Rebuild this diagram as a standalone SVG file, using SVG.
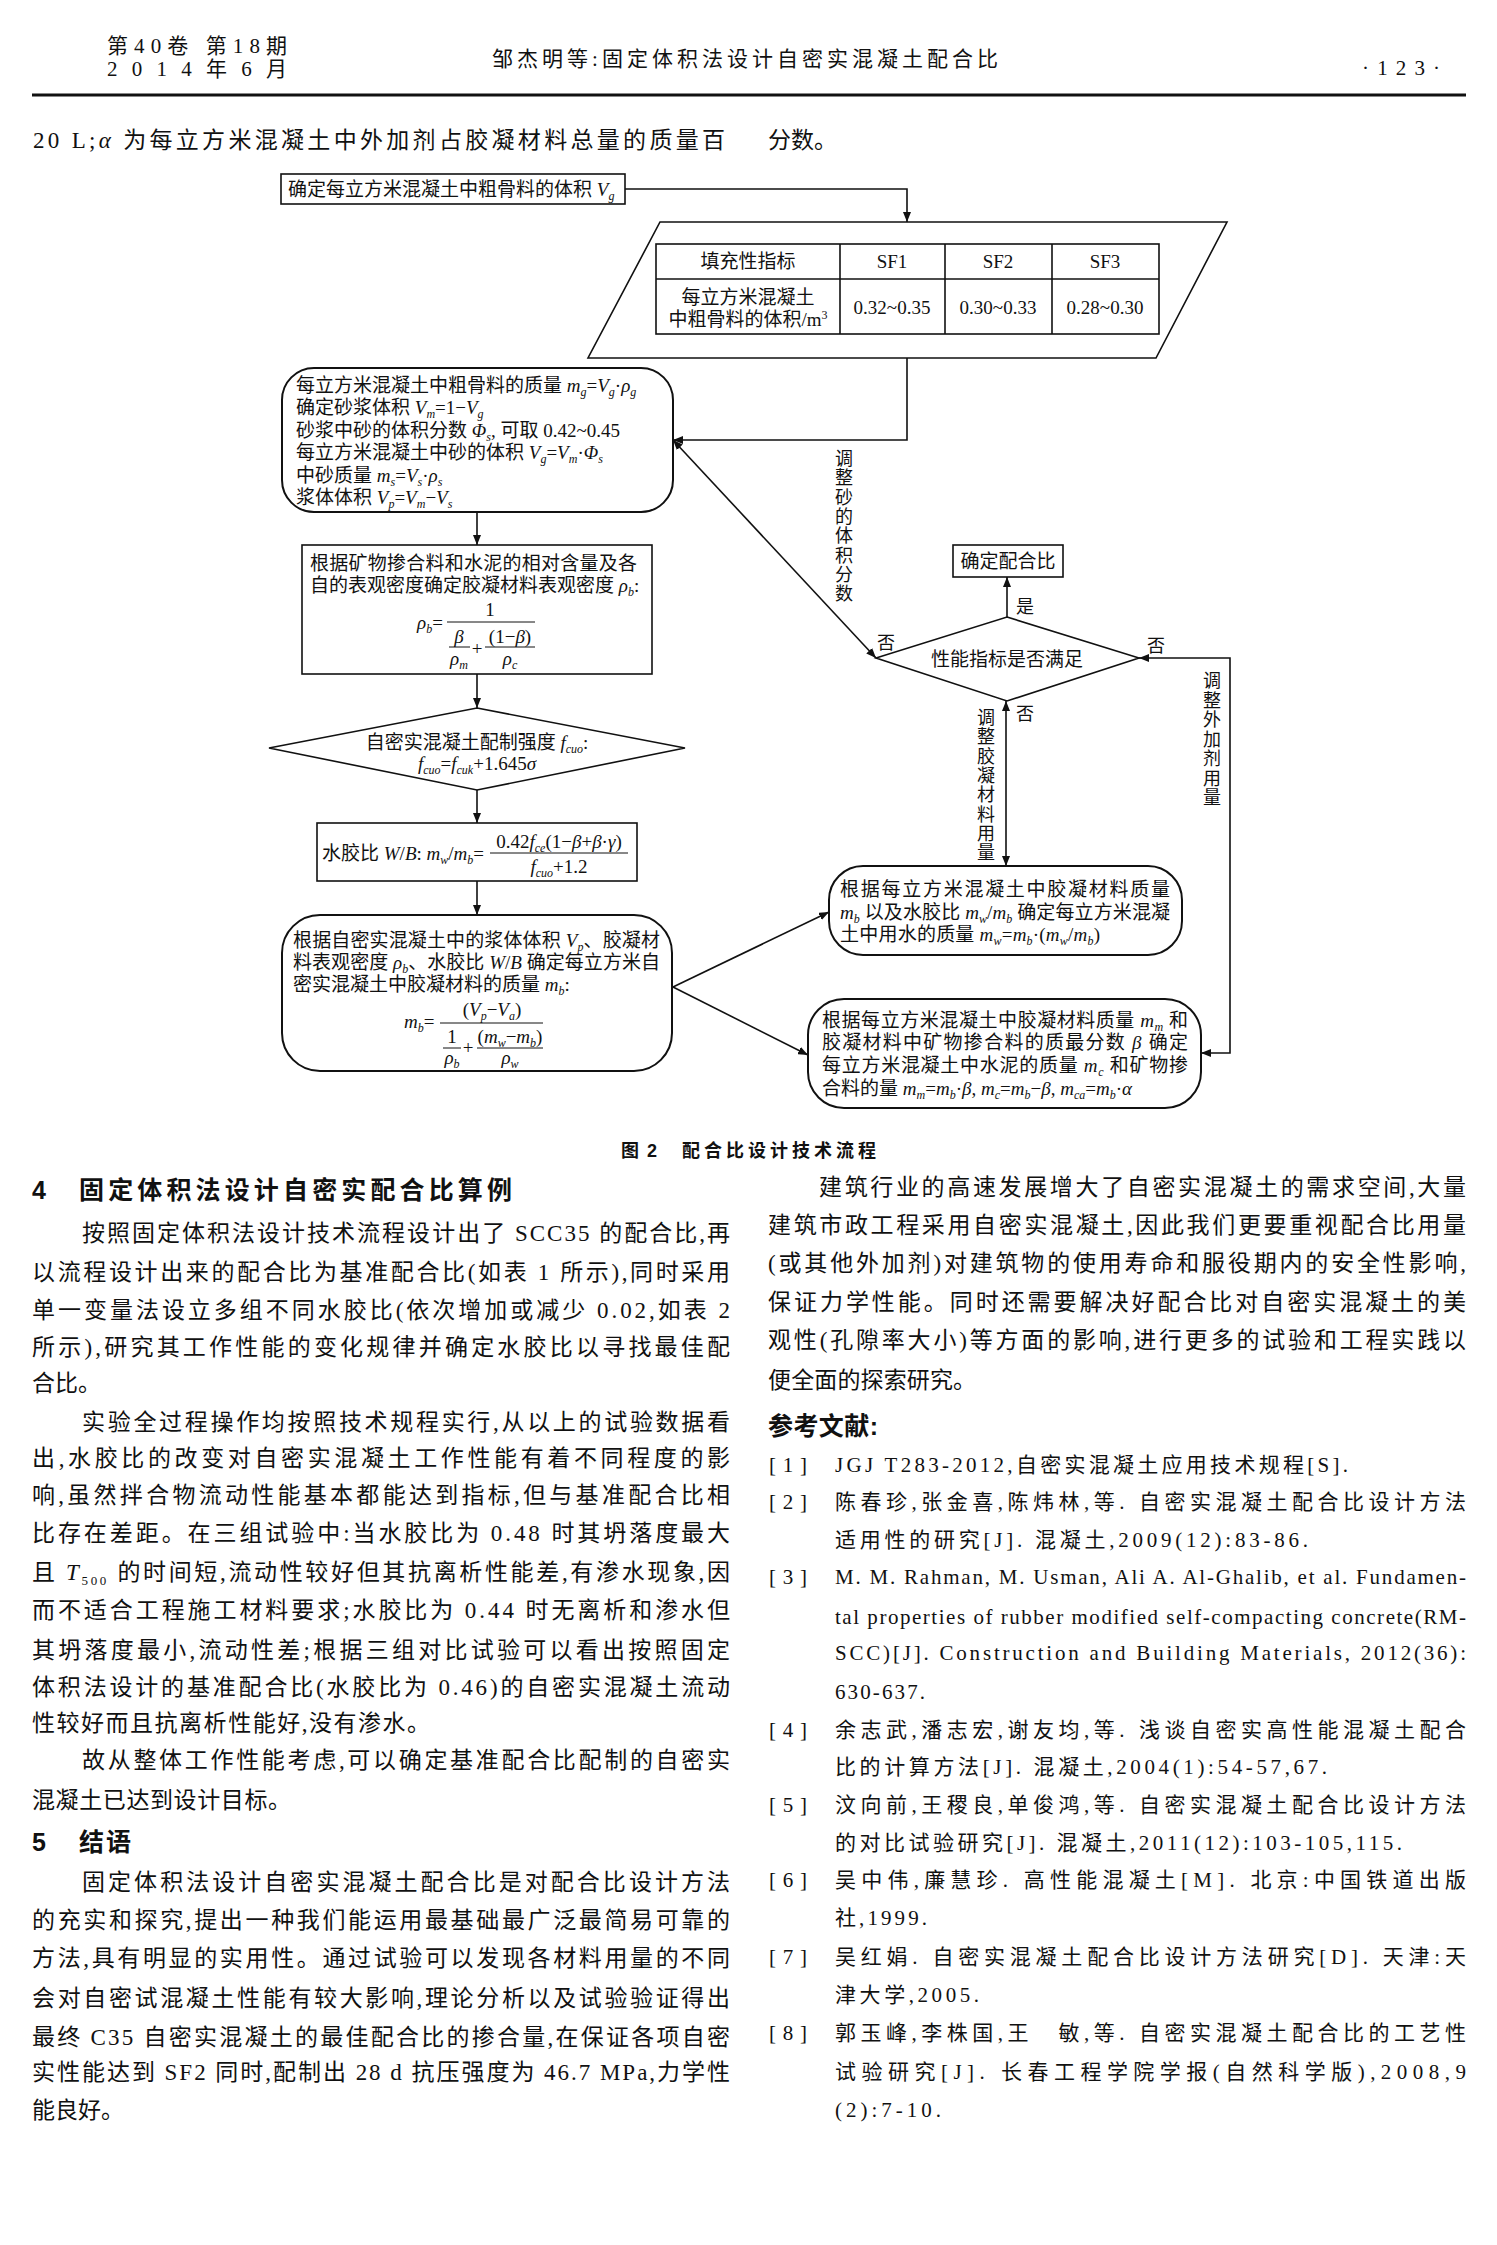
<svg xmlns="http://www.w3.org/2000/svg" width="1497" height="2245" viewBox="0 0 1497 2245">
<style>
.n{fill:none;stroke:#111;stroke-width:1.6}
.rn{fill:none;stroke:#111;stroke-width:2}
.c{fill:none;stroke:#111;stroke-width:1.6}
.t{font-family:"Liberation Serif","Noto Sans CJK SC",serif;font-size:19px;fill:#111}
.lb{font-family:"Liberation Serif","Noto Sans CJK SC",serif;font-size:18px;fill:#111}
.i{font-style:italic}
.s{font-size:12px;baseline-shift:-4px;font-style:italic}
.b{font-family:"Liberation Serif","Noto Sans CJK SC",serif;font-size:23px;fill:#111}
.r{font-family:"Liberation Serif","Noto Sans CJK SC",serif;font-size:21px;fill:#111}
.h{font-family:"Liberation Sans","Noto Sans CJK SC",sans-serif;font-weight:700;font-size:25px;fill:#111}
.hd{font-family:"Liberation Serif","Noto Sans CJK SC",serif;font-size:21px;fill:#111}
.cap{font-family:"Liberation Sans","Noto Sans CJK SC",sans-serif;font-weight:700;font-size:18px;fill:#111}
.mid{text-anchor:middle}
</style>
<defs>
<marker id="ah" viewBox="0 0 10 8" refX="10" refY="4" markerWidth="10" markerHeight="8" markerUnits="userSpaceOnUse" orient="auto-start-reverse"><path d="M0,0 L10,4 L0,8 z" fill="#111"/></marker>
</defs>
<rect width="1497" height="2245" fill="#fff"/>

<g id="header">
<text class="hd" x="107" y="53" textLength="180">第40卷 第18期</text>
<text class="hd" x="107" y="76" textLength="180">2014年6月</text>
<text class="hd" x="492" y="66" textLength="506">邹杰明等:固定体积法设计自密实混凝土配合比</text>
<text class="hd" x="1362" y="75" font-size="26" textLength="78">·123·</text>
<line x1="32" y1="95" x2="1466" y2="95" stroke="#111" stroke-width="3"/>
<text class="b" x="33" y="148" textLength="692">20 L;<tspan class="i">α</tspan> 为每立方米混凝土中外加剂占胶凝材料总量的质量百</text>
<text class="b" x="768" y="148">分数。</text>
</g>

<g id="connectors">
<polyline class="c" points="625,189 907,189 907,222" marker-end="url(#ah)"/>
<polyline class="c" points="907,358 907,440 673,440" marker-end="url(#ah)"/>
<line class="c" x1="477" y1="512" x2="477" y2="545" marker-end="url(#ah)"/>
<line class="c" x1="477" y1="674" x2="477" y2="708" marker-end="url(#ah)"/>
<line class="c" x1="477" y1="790" x2="477" y2="823" marker-end="url(#ah)"/>
<line class="c" x1="477" y1="881" x2="477" y2="915" marker-end="url(#ah)"/>
<line class="c" x1="673" y1="987" x2="829" y2="912" marker-end="url(#ah)"/>
<line class="c" x1="673" y1="987" x2="808" y2="1055" marker-end="url(#ah)"/>
<line class="c" x1="1006" y1="866" x2="1006" y2="701" marker-start="url(#ah)" marker-end="url(#ah)"/>
<line class="c" x1="876" y1="658" x2="673" y2="440" marker-start="url(#ah)" marker-end="url(#ah)"/>
<polyline class="c" points="1139,658 1230,658 1230,1053 1201,1053" marker-start="url(#ah)" marker-end="url(#ah)"/>
<line class="c" x1="1007" y1="617" x2="1007" y2="577" marker-end="url(#ah)"/>
<text class="lb mid"><tspan x="844" y="465">调</tspan><tspan x="844" dy="19.3">整</tspan><tspan x="844" dy="19.3">砂</tspan><tspan x="844" dy="19.3">的</tspan><tspan x="844" dy="19.3">体</tspan><tspan x="844" dy="19.3">积</tspan><tspan x="844" dy="19.3">分</tspan><tspan x="844" dy="19.3">数</tspan></text>
<text class="lb mid"><tspan x="986" y="724">调</tspan><tspan x="986" dy="19.3">整</tspan><tspan x="986" dy="19.3">胶</tspan><tspan x="986" dy="19.3">凝</tspan><tspan x="986" dy="19.3">材</tspan><tspan x="986" dy="19.3">料</tspan><tspan x="986" dy="19.3">用</tspan><tspan x="986" dy="19.3">量</tspan></text>
<text class="lb mid"><tspan x="1212" y="687">调</tspan><tspan x="1212" dy="19.5">整</tspan><tspan x="1212" dy="19.5">外</tspan><tspan x="1212" dy="19.5">加</tspan><tspan x="1212" dy="19.5">剂</tspan><tspan x="1212" dy="19.5">用</tspan><tspan x="1212" dy="19.5">量</tspan></text>
<text class="lb" x="1016" y="613">是</text>
<text class="lb mid" x="886" y="649">否</text>
<text class="lb mid" x="1156" y="652">否</text>
<text class="lb mid" x="1025" y="720">否</text>
</g>

<g id="n-vg">
<rect class="n" x="281" y="174" width="344" height="30"/>
<text class="t" x="288" y="196">确定每立方米混凝土中粗骨料的体积 <tspan class="i">V</tspan><tspan class="s">g</tspan></text>
</g>

<g id="n-table">
<polygon class="n" points="660,222 1227,222 1156,358 588,358"/>
<rect class="n" x="656" y="244" width="503" height="90"/>
<line class="n" x1="656" y1="279" x2="1159" y2="279"/>
<line class="n" x1="840" y1="244" x2="840" y2="334"/>
<line class="n" x1="945" y1="244" x2="945" y2="334"/>
<line class="n" x1="1052" y1="244" x2="1052" y2="334"/>
<text class="t mid" x="748" y="268">填充性指标</text>
<text class="t mid" x="892" y="268">SF1</text>
<text class="t mid" x="998" y="268">SF2</text>
<text class="t mid" x="1105" y="268">SF3</text>
<text class="t mid" x="748" y="304">每立方米混凝土</text>
<text class="t mid" x="748" y="326">中粗骨料的体积/m<tspan font-size="12" baseline-shift="7">3</tspan></text>
<text class="t mid" x="892" y="314">0.32~0.35</text>
<text class="t mid" x="998" y="314">0.30~0.33</text>
<text class="t mid" x="1105" y="314">0.28~0.30</text>
</g>

<g id="n-sand">
<rect class="rn" x="282" y="368" width="391" height="144" rx="32" ry="32"/>
<text class="t" x="296" y="392">每立方米混凝土中粗骨料的质量 <tspan class="i">m</tspan><tspan class="s">g</tspan>=<tspan class="i">V</tspan><tspan class="s">g</tspan>·<tspan class="i">ρ</tspan><tspan class="s">g</tspan></text>
<text class="t" x="296" y="414">确定砂浆体积 <tspan class="i">V</tspan><tspan class="s">m</tspan>=1−<tspan class="i">V</tspan><tspan class="s">g</tspan></text>
<text class="t" x="296" y="437">砂浆中砂的体积分数 <tspan class="i">Φ</tspan><tspan class="s">s</tspan>, 可取 0.42~0.45</text>
<text class="t" x="296" y="459">每立方米混凝土中砂的体积 <tspan class="i">V</tspan><tspan class="s">g</tspan>=<tspan class="i">V</tspan><tspan class="s">m</tspan>·<tspan class="i">Φ</tspan><tspan class="s">s</tspan></text>
<text class="t" x="296" y="482">中砂质量 <tspan class="i">m</tspan><tspan class="s">s</tspan>=<tspan class="i">V</tspan><tspan class="s">s</tspan>·<tspan class="i">ρ</tspan><tspan class="s">s</tspan></text>
<text class="t" x="296" y="504">浆体体积 <tspan class="i">V</tspan><tspan class="s">p</tspan>=<tspan class="i">V</tspan><tspan class="s">m</tspan>−<tspan class="i">V</tspan><tspan class="s">s</tspan></text>
</g>

<g id="n-density">
<rect class="n" x="302" y="545" width="350" height="129"/>
<text class="t" x="310" y="570" textLength="327">根据矿物掺合料和水泥的相对含量及各</text>
<text class="t" x="310" y="592">自的表观密度确定胶凝材料表观密度 <tspan class="i">ρ</tspan><tspan class="s">b</tspan>:</text>
<text class="t" x="417" y="629"><tspan class="i">ρ</tspan><tspan class="s">b</tspan>=</text>
<text class="t mid" x="490" y="616">1</text>
<line x1="447" y1="622" x2="535" y2="622" stroke="#111" stroke-width="1"/>
<text class="t mid i" x="459" y="643">β</text>
<line x1="449" y1="647" x2="470" y2="647" stroke="#111" stroke-width="1"/>
<text class="t mid" x="459" y="665"><tspan class="i">ρ</tspan><tspan class="s">m</tspan></text>
<text class="t mid" x="477" y="655">+</text>
<text class="t mid" x="510" y="643">(1−<tspan class="i">β</tspan>)</text>
<line x1="485" y1="647" x2="535" y2="647" stroke="#111" stroke-width="1"/>
<text class="t mid" x="510" y="665"><tspan class="i">ρ</tspan><tspan class="s">c</tspan></text>
</g>

<g id="n-strength">
<polygon class="n" points="477,708 685,748 477,790 269,748"/>
<text class="t mid" x="477" y="749">自密实混凝土配制强度 <tspan class="i">f</tspan><tspan class="s">cuo</tspan>:</text>
<text class="t mid" x="477" y="770"><tspan class="i">f</tspan><tspan class="s">cuo</tspan>=<tspan class="i">f</tspan><tspan class="s">cuk</tspan>+1.645<tspan class="i">σ</tspan></text>
</g>

<g id="n-wb">
<rect class="n" x="317" y="823" width="320" height="58"/>
<text class="t" x="322" y="860">水胶比 <tspan class="i">W</tspan>/<tspan class="i">B</tspan>: <tspan class="i">m</tspan><tspan class="s">w</tspan>/<tspan class="i">m</tspan><tspan class="s">b</tspan>=</text>
<line x1="490" y1="853" x2="628" y2="853" stroke="#111" stroke-width="1"/>
<text class="t mid" x="559" y="848">0.42<tspan class="i">f</tspan><tspan class="s">ce</tspan>(1−<tspan class="i">β</tspan>+<tspan class="i">β</tspan>·<tspan class="i">γ</tspan>)</text>
<text class="t mid" x="559" y="873"><tspan class="i">f</tspan><tspan class="s">cuo</tspan>+1.2</text>
</g>

<g id="n-binder">
<rect class="rn" x="282" y="915" width="390" height="156" rx="38" ry="38"/>
<text class="t" x="293" y="947" textLength="367">根据自密实混凝土中的浆体体积 <tspan class="i">V</tspan><tspan class="s">p</tspan>、胶凝材</text>
<text class="t" x="293" y="969" textLength="367">料表观密度 <tspan class="i">ρ</tspan><tspan class="s">b</tspan>、水胶比 <tspan class="i">W</tspan>/<tspan class="i">B</tspan> 确定每立方米自</text>
<text class="t" x="293" y="991">密实混凝土中胶凝材料的质量 <tspan class="i">m</tspan><tspan class="s">b</tspan>:</text>
<text class="t" x="404" y="1028"><tspan class="i">m</tspan><tspan class="s">b</tspan>=</text>
<line x1="440" y1="1023" x2="543" y2="1023" stroke="#111" stroke-width="1"/>
<text class="t mid" x="492" y="1016">(<tspan class="i">V</tspan><tspan class="s">p</tspan>−<tspan class="i">V</tspan><tspan class="s">a</tspan>)</text>
<text class="t mid" x="452" y="1043">1</text>
<line x1="443" y1="1048" x2="461" y2="1048" stroke="#111" stroke-width="1"/>
<text class="t mid" x="452" y="1064"><tspan class="i">ρ</tspan><tspan class="s">b</tspan></text>
<text class="t mid" x="468" y="1054">+</text>
<text class="t mid" x="510" y="1043">(<tspan class="i">m</tspan><tspan class="s">w</tspan>−<tspan class="i">m</tspan><tspan class="s">b</tspan>)</text>
<line x1="477" y1="1048" x2="543" y2="1048" stroke="#111" stroke-width="1"/>
<text class="t mid" x="510" y="1064"><tspan class="i">ρ</tspan><tspan class="s">w</tspan></text>
</g>

<g id="n-decide">
<polygon class="n" points="1007,617 1139,658 1007,701 876,658"/>
<text class="t mid" x="1007" y="666">性能指标是否满足</text>
</g>

<g id="n-final">
<rect class="n" x="953" y="545" width="110" height="32"/>
<text class="t mid" x="1008" y="568">确定配合比</text>
</g>

<g id="n-water">
<rect class="rn" x="829" y="866" width="353" height="89" rx="34" ry="34"/>
<text class="t" x="840" y="896" textLength="330">根据每立方米混凝土中胶凝材料质量</text>
<text class="t" x="840" y="919" textLength="330"><tspan class="i">m</tspan><tspan class="s">b</tspan> 以及水胶比 <tspan class="i">m</tspan><tspan class="s">w</tspan>/<tspan class="i">m</tspan><tspan class="s">b</tspan> 确定每立方米混凝</text>
<text class="t" x="840" y="941" textLength="260">土中用水的质量 <tspan class="i">m</tspan><tspan class="s">w</tspan>=<tspan class="i">m</tspan><tspan class="s">b</tspan>·(<tspan class="i">m</tspan><tspan class="s">w</tspan>/<tspan class="i">m</tspan><tspan class="s">b</tspan>)</text>
</g>

<g id="n-cement">
<rect class="rn" x="808" y="999" width="393" height="109" rx="36" ry="36"/>
<text class="t" x="822" y="1027" textLength="366">根据每立方米混凝土中胶凝材料质量 <tspan class="i">m</tspan><tspan class="s">m</tspan> 和</text>
<text class="t" x="822" y="1049" textLength="366">胶凝材料中矿物掺合料的质最分数 <tspan class="i">β</tspan> 确定</text>
<text class="t" x="822" y="1072" textLength="366">每立方米混凝土中水泥的质量 <tspan class="i">m</tspan><tspan class="s">c</tspan> 和矿物掺</text>
<text class="t" x="822" y="1095" textLength="310">合料的量 <tspan class="i">m</tspan><tspan class="s">m</tspan>=<tspan class="i">m</tspan><tspan class="s">b</tspan>·<tspan class="i">β</tspan>, <tspan class="i">m</tspan><tspan class="s">c</tspan>=<tspan class="i">m</tspan><tspan class="s">b</tspan>−<tspan class="i">β</tspan>, <tspan class="i">m</tspan><tspan class="s">ca</tspan>=<tspan class="i">m</tspan><tspan class="s">b</tspan>·<tspan class="i">α</tspan></text>
</g>

<g id="caption">
<text class="cap" x="621" y="1157" textLength="36">图 2</text>
<text class="cap" x="682" y="1157" textLength="194">配合比设计技术流程</text>
</g>

<g id="left-column">
<text class="h" x="32" y="1199">4</text>
<text class="h" x="79" y="1199" textLength="433">固定体积法设计自密实配合比算例</text>
<text class="b" x="82" y="1241" textLength="648">按照固定体积法设计技术流程设计出了 SCC35 的配合比,再</text>
<text class="b" x="32" y="1280" textLength="698">以流程设计出来的配合比为基准配合比(如表 1 所示),同时采用</text>
<text class="b" x="32" y="1318" textLength="698">单一变量法设立多组不同水胶比(依次增加或减少 0.02,如表 2</text>
<text class="b" x="32" y="1355" textLength="698">所示),研究其工作性能的变化规律并确定水胶比以寻找最佳配</text>
<text class="b" x="32" y="1391">合比。</text>
<text class="b" x="82" y="1430" textLength="648">实验全过程操作均按照技术规程实行,从以上的试验数据看</text>
<text class="b" x="32" y="1466" textLength="698">出,水胶比的改变对自密实混凝土工作性能有着不同程度的影</text>
<text class="b" x="32" y="1503" textLength="698">响,虽然拌合物流动性能基本都能达到指标,但与基准配合比相</text>
<text class="b" x="32" y="1541" textLength="698">比存在差距。在三组试验中:当水胶比为 0.48 时其坍落度最大</text>
<text class="b" x="32" y="1580" textLength="698">且 <tspan class="i">T</tspan><tspan font-size="13" baseline-shift="-5">500</tspan> 的时间短,流动性较好但其抗离析性能差,有渗水现象,因</text>
<text class="b" x="32" y="1618" textLength="698">而不适合工程施工材料要求;水胶比为 0.44 时无离析和渗水但</text>
<text class="b" x="32" y="1658" textLength="698">其坍落度最小,流动性差;根据三组对比试验可以看出按照固定</text>
<text class="b" x="32" y="1695" textLength="698">体积法设计的基准配合比(水胶比为 0.46)的自密实混凝土流动</text>
<text class="b" x="32" y="1731" textLength="398">性较好而且抗离析性能好,没有渗水。</text>
<text class="b" x="82" y="1768" textLength="648">故从整体工作性能考虑,可以确定基准配合比配制的自密实</text>
<text class="b" x="32" y="1808" textLength="259">混凝土已达到设计目标。</text>
<text class="h" x="32" y="1851">5</text>
<text class="h" x="79" y="1851" textLength="52">结语</text>
<text class="b" x="82" y="1890" textLength="648">固定体积法设计自密实混凝土配合比是对配合比设计方法</text>
<text class="b" x="32" y="1928" textLength="698">的充实和探究,提出一种我们能运用最基础最广泛最简易可靠的</text>
<text class="b" x="32" y="1966" textLength="698">方法,具有明显的实用性。通过试验可以发现各材料用量的不同</text>
<text class="b" x="32" y="2006" textLength="698">会对自密试混凝土性能有较大影响,理论分析以及试验验证得出</text>
<text class="b" x="32" y="2045" textLength="698">最终 C35 自密实混凝土的最佳配合比的掺合量,在保证各项自密</text>
<text class="b" x="32" y="2080" textLength="698">实性能达到 SF2 同时,配制出 28 d 抗压强度为 46.7 MPa,力学性</text>
<text class="b" x="32" y="2118">能良好。</text>
</g>

<g id="right-column">
<text class="b" x="819" y="1195" textLength="647">建筑行业的高速发展增大了自密实混凝土的需求空间,大量</text>
<text class="b" x="768" y="1233" textLength="698">建筑市政工程采用自密实混凝土,因此我们更要重视配合比用量</text>
<text class="b" x="768" y="1271" textLength="698">(或其他外加剂)对建筑物的使用寿命和服役期内的安全性影响,</text>
<text class="b" x="768" y="1310" textLength="698">保证力学性能。同时还需要解决好配合比对自密实混凝土的美</text>
<text class="b" x="768" y="1348" textLength="698">观性(孔隙率大小)等方面的影响,进行更多的试验和工程实践以</text>
<text class="b" x="768" y="1388" textLength="208">便全面的探索研究。</text>
<text class="h" x="768" y="1435" font-size="23" textLength="110">参考文献:</text>
<text class="r" x="769" y="1472" textLength="38">[1]</text>
<text class="r" x="835" y="1472" textLength="513">JGJ T283-2012,自密实混凝土应用技术规程[S].</text>
<text class="r" x="769" y="1509" textLength="38">[2]</text>
<text class="r" x="835" y="1509" textLength="631">陈春珍,张金喜,陈炜林,等. 自密实混凝土配合比设计方法</text>
<text class="r" x="835" y="1547" textLength="473">适用性的研究[J]. 混凝土,2009(12):83-86.</text>
<text class="r" x="769" y="1584" textLength="38">[3]</text>
<text class="r" x="835" y="1584" textLength="631">M. M. Rahman, M. Usman, Ali A. Al-Ghalib, et al. Fundamen-</text>
<text class="r" x="835" y="1624" textLength="631">tal properties of rubber modified self-compacting concrete(RM-</text>
<text class="r" x="835" y="1660" textLength="631">SCC)[J]. Construction and Building Materials, 2012(36):</text>
<text class="r" x="835" y="1699" textLength="90">630-637.</text>
<text class="r" x="769" y="1737" textLength="38">[4]</text>
<text class="r" x="835" y="1737" textLength="631">余志武,潘志宏,谢友均,等. 浅谈自密实高性能混凝土配合</text>
<text class="r" x="835" y="1774" textLength="492">比的计算方法[J]. 混凝土,2004(1):54-57,67.</text>
<text class="r" x="769" y="1812" textLength="38">[5]</text>
<text class="r" x="835" y="1812" textLength="631">汶向前,王稷良,单俊鸿,等. 自密实混凝土配合比设计方法</text>
<text class="r" x="835" y="1850" textLength="567">的对比试验研究[J]. 混凝土,2011(12):103-105,115.</text>
<text class="r" x="769" y="1887" textLength="38">[6]</text>
<text class="r" x="835" y="1887" textLength="631">吴中伟,廉慧珍. 高性能混凝土[M]. 北京:中国铁道出版</text>
<text class="r" x="835" y="1925" textLength="92">社,1999.</text>
<text class="r" x="769" y="1964" textLength="38">[7]</text>
<text class="r" x="835" y="1964" textLength="631">吴红娟. 自密实混凝土配合比设计方法研究[D]. 天津:天</text>
<text class="r" x="835" y="2002" textLength="144">津大学,2005.</text>
<text class="r" x="769" y="2040" textLength="38">[8]</text>
<text class="r" x="835" y="2040" textLength="631">郭玉峰,李株国,王　敏,等. 自密实混凝土配合比的工艺性</text>
<text class="r" x="835" y="2079" textLength="631">试验研究[J]. 长春工程学院学报(自然科学版),2008,9</text>
<text class="r" x="835" y="2117" textLength="106">(2):7-10.</text>
</g>
</svg>
